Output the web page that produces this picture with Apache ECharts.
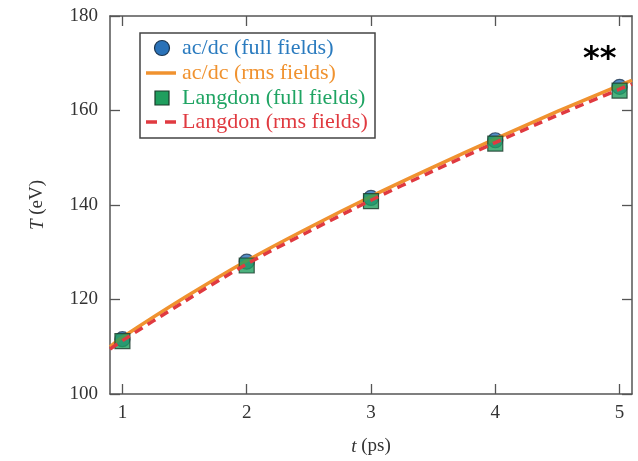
<!DOCTYPE html>
<html><head><meta charset="utf-8">
<script src="https://cdn.jsdelivr.net/npm/echarts@6/dist/echarts.min.js"></script>
<style>html,body{margin:0;padding:0;background:#fff}#c{width:638px;height:461px}</style>
</head><body><div id="c"></div>
<script>
const times = [1, 2, 3, 4, 5];
const acdcFull = [111.6, 128.0, 141.5, 153.7, 165.0];
const langdonFull = [111.2, 127.2, 140.8, 153.0, 164.2];
const lineT = [0.9, 1, 1.5, 2, 2.5, 3, 3.5, 4, 4.5, 5, 5.1];
const acdcRms = [110.0, 112.0, 120.4, 128.2, 135.2, 141.8, 148.0, 154.0, 159.8, 165.3, 166.4];
const langdonRms = [109.5, 111.3, 119.6, 127.5, 134.4, 141.0, 147.2, 153.2, 159.0, 164.5, 165.6];
const xTicks = [1, 2, 3, 4, 5];
const yTicks = [100, 120, 140, 160, 180];
const seriesNames = ['ac/dc (full fields)', 'ac/dc (rms fields)', 'Langdon (full fields)', 'Langdon (rms fields)'];

const serif = 'Liberation Serif';
const axisCol = '#555';
const C = {blue: '#2a72b8', blueTxt: '#2a7bbf', orange: '#f0922f', green: '#1f9e5e', greenTxt: '#1fa463', red: '#e03a40'};
const pair = (xs, ys) => xs.map((x, i) => [x, ys[i]]);

// hand-built legend (box, icons, labels)
const LX = 140, LY = 33, LW = 235, LH = 105, rowY = [48, 73, 98, 122];
const legendG = [
  {type: 'rect', shape: {x: LX, y: LY, width: LW, height: LH}, style: {fill: '#fff', stroke: '#444', lineWidth: 1.5}, z: 10},
  {type: 'circle', shape: {cx: 162, cy: rowY[0], r: 7.5}, style: {fill: C.blue, stroke: '#1b3550', lineWidth: 1.2}, z: 11},
  {type: 'line', shape: {x1: 146, y1: rowY[1], x2: 176, y2: rowY[1]}, style: {stroke: C.orange, lineWidth: 3.5}, z: 11},
  {type: 'rect', shape: {x: 155, y: rowY[2] - 7, width: 14, height: 14}, style: {fill: C.green, stroke: '#1a3a2a', lineWidth: 1.2}, z: 11},
  {type: 'line', shape: {x1: 146, y1: rowY[3], x2: 176, y2: rowY[3]}, style: {stroke: C.red, lineWidth: 3.5, lineDash: [11, 8]}, z: 11}
];
const txtCols = [C.blueTxt, C.orange, C.greenTxt, C.red];
seriesNames.forEach((n, i) => legendG.push({
  type: 'text', left: 182, top: rowY[i] - 11, z: 11,
  style: {text: n, font: '22px "' + serif + '"', fill: txtCols[i]}
}));
legendG.push({type: 'text', left: 583, top: 44, z: 11, style: {text: '**', font: 'bold 32px "DejaVu Sans"', fill: '#000'}});

const chart = echarts.init(document.getElementById('c'));
chart.setOption({
  animation: false,
  grid: {left: 110, right: 6, top: 16, bottom: 65},
  xAxis: [{
    type: 'value', min: 0.9, max: 5.1, position: 'bottom',
    name: '{i|t} (ps)', nameLocation: 'middle', nameGap: 43,
    nameTextStyle: {fontFamily: serif, fontSize: 19, color: '#333', rich: {i: {fontFamily: serif, fontStyle: 'italic', fontSize: 19, color: '#333'}}},
    axisLine: {show: true, lineStyle: {color: axisCol, width: 1.5}},
    axisTick: {show: true, inside: true, length: 10, customValues: xTicks, lineStyle: {color: axisCol, width: 1.3}},
    axisLabel: {customValues: xTicks, fontFamily: serif, fontSize: 19, color: '#333', margin: 10},
    splitLine: {show: false}
  }, {
    type: 'value', min: 0.9, max: 5.1, position: 'top',
    axisLine: {show: true, lineStyle: {color: axisCol, width: 1.5}},
    axisTick: {show: true, inside: true, length: 10, customValues: xTicks, lineStyle: {color: axisCol, width: 1.3}},
    axisLabel: {show: false}, splitLine: {show: false}
  }],
  yAxis: [{
    type: 'value', min: 100, max: 180, position: 'left',
    name: '{i|T} (eV)', nameLocation: 'middle', nameGap: 63, nameRotate: 90,
    nameTextStyle: {fontFamily: serif, fontSize: 19, color: '#333', rich: {i: {fontFamily: serif, fontStyle: 'italic', fontSize: 19, color: '#333'}}},
    axisLine: {show: true, lineStyle: {color: axisCol, width: 1.5}},
    axisTick: {show: true, inside: true, length: 10, customValues: yTicks, lineStyle: {color: axisCol, width: 1.3}},
    axisLabel: {customValues: yTicks, fontFamily: serif, fontSize: 19, color: '#333', margin: 12},
    splitLine: {show: false}
  }, {
    type: 'value', min: 100, max: 180, position: 'right',
    axisLine: {show: true, lineStyle: {color: axisCol, width: 1.5}},
    axisTick: {show: true, inside: true, length: 10, customValues: yTicks, lineStyle: {color: axisCol, width: 1.3}},
    axisLabel: {show: false}, splitLine: {show: false}
  }],
  graphic: legendG,
  series: [{
    name: seriesNames[0], type: 'scatter', data: pair(times, acdcFull),
    symbol: 'circle', symbolSize: 15, z: 2,
    itemStyle: {color: C.blue, borderColor: '#1b3550', borderWidth: 1.2}
  }, {
    name: seriesNames[1], type: 'line', data: pair(lineT, acdcRms),
    showSymbol: false, symbol: 'none', smooth: 0.3, z: 3,
    lineStyle: {color: C.orange, width: 3.5}
  }, {
    name: seriesNames[2], type: 'scatter', data: pair(times, langdonFull),
    symbol: 'rect', symbolSize: 15, z: 4,
    itemStyle: {color: C.green, borderColor: '#1a3a2a', borderWidth: 1.2}
  }, {
    name: seriesNames[3], type: 'line', data: pair(lineT, langdonRms),
    showSymbol: false, symbol: 'none', smooth: 0.3, z: 5,
    lineStyle: {color: C.red, width: 3.5, type: [9, 6]}
  }]
});
</script></body></html>
